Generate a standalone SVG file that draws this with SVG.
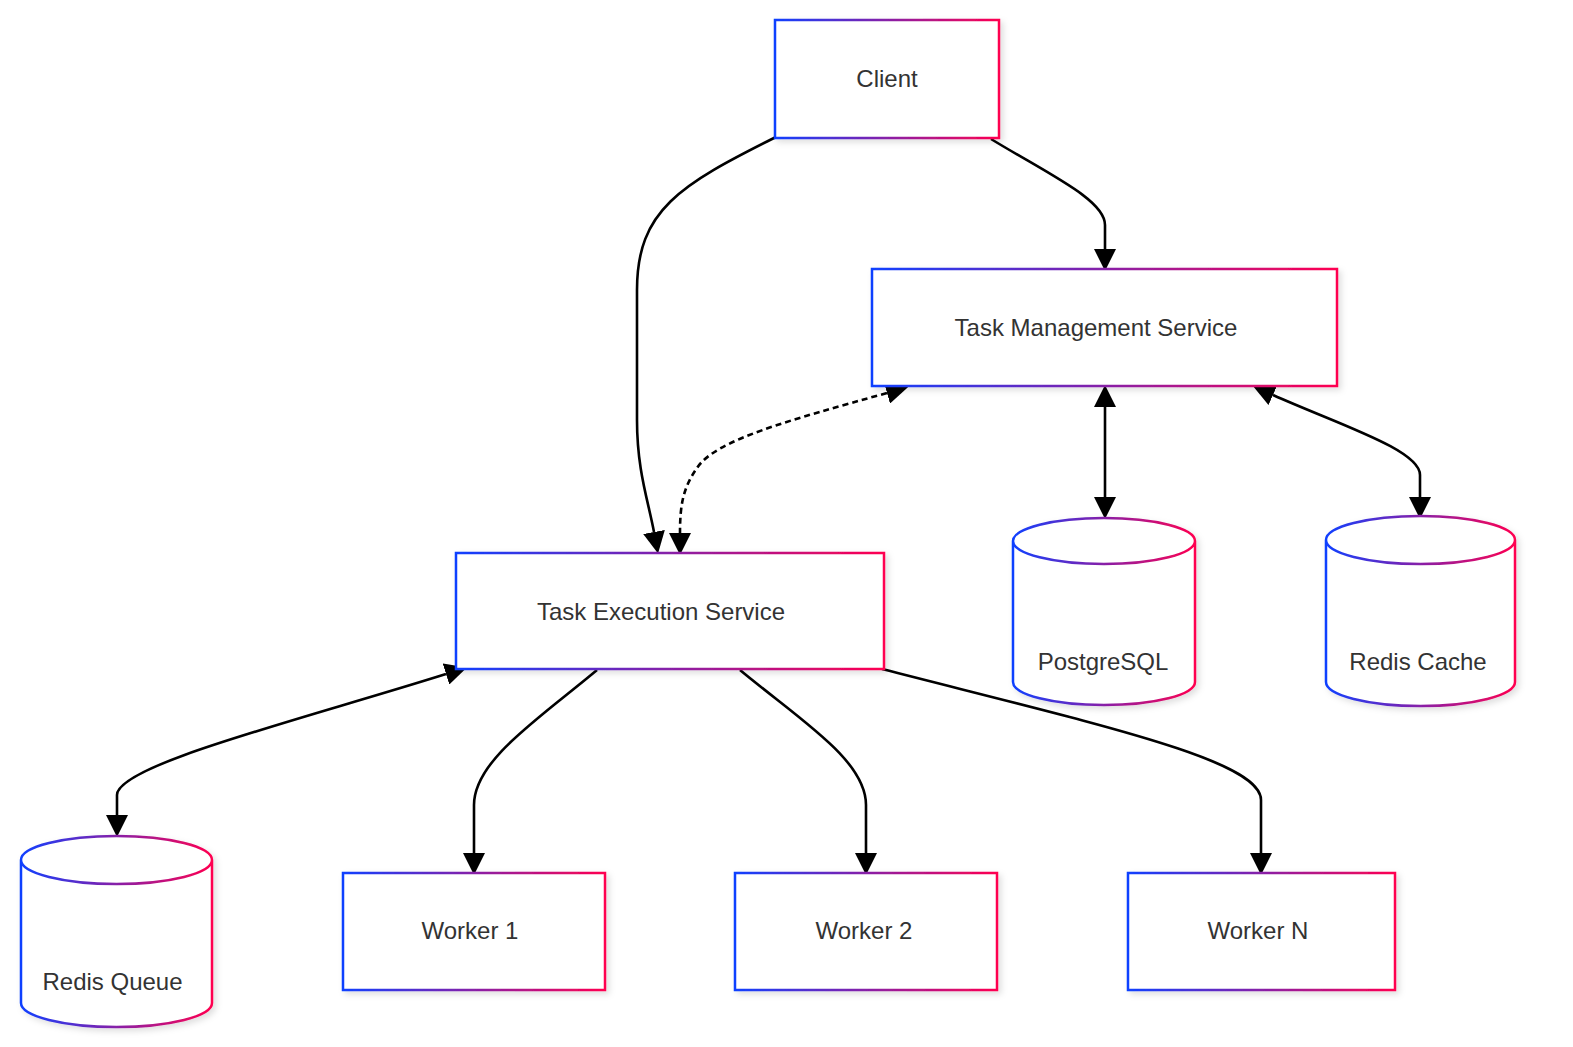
<svg xmlns="http://www.w3.org/2000/svg" width="1573" height="1047" viewBox="0 0 1573 1047">
<style>
  .box { fill: #ffffff; stroke: url(#grad); stroke-width: 2.5; filter: url(#shadow); }
  .label { font-family: "Liberation Sans", Arial, sans-serif; font-size: 24px; fill: #333333; text-anchor: middle; }
  .edge { fill: none; stroke: #000000; stroke-width: 2.6; }
  .dotted { stroke-dasharray: 6 4; }
</style>
<defs>
  <linearGradient id="grad" x1="0" y1="0" x2="1" y2="0">
    <stop offset="0" stop-color="#1040ff"/>
    <stop offset="1" stop-color="#ff0050"/>
  </linearGradient>
  <filter id="shadow" x="-10%" y="-10%" width="125%" height="130%">
    <feDropShadow dx="3" dy="3" stdDeviation="3" flood-color="#000000" flood-opacity="0.13"/>
  </filter>
  <marker id="arrow" markerUnits="userSpaceOnUse" markerWidth="22" markerHeight="22" refX="0" refY="10" orient="auto-start-reverse" viewBox="0 0 20 20">
    <path d="M0,0 L20,10 L0,20 z" fill="#000000"/>
  </marker>
</defs>
<rect width="1573" height="1047" fill="#ffffff"/>

<g id="connectors">
  <path class="edge" d="M 776,137 C 680,185 637,210 637,290 L 637,420 C 637,470 648,500 654,532" marker-end="url(#arrow)"/>
  <path class="edge" d="M 991,139 C 1050,175 1105,200 1105,225 L 1105,249" marker-end="url(#arrow)"/>
  <path class="edge dotted" d="M 887,393 C 790,420 715,440 697,468 C 683,488 680,505 680,533" marker-start="url(#arrow)" marker-end="url(#arrow)"/>
  <path class="edge" d="M 1105,407 L 1105,497" marker-start="url(#arrow)" marker-end="url(#arrow)"/>
  <path class="edge" d="M 1273,395 C 1340,425 1420,450 1420,475 L 1420,497" marker-start="url(#arrow)" marker-end="url(#arrow)"/>
  <path class="edge" d="M 446,674 C 300,720 117,765 117,795 L 117,815" marker-start="url(#arrow)" marker-end="url(#arrow)"/>
  <path class="edge" d="M 597,670 C 540,718 474,760 474,805 L 474,853" marker-end="url(#arrow)"/>
  <path class="edge" d="M 740,670 C 800,720 866,760 866,805 L 866,853" marker-end="url(#arrow)"/>
  <path class="edge" d="M 882,669 C 1100,725 1261,760 1261,800 L 1261,853" marker-end="url(#arrow)"/>
</g>

<g id="client">
  <rect class="box" x="775" y="20" width="224" height="118"/>
  <text class="label" x="887" y="87">Client</text>
</g>
<g id="task-management-service">
  <rect class="box" x="872" y="269" width="465" height="117"/>
  <text class="label" x="1096" y="336">Task Management Service</text>
</g>
<g id="task-execution-service">
  <rect class="box" x="456" y="553" width="428" height="116"/>
  <text class="label" x="661" y="620">Task Execution Service</text>
</g>
<g id="postgresql">
  <path class="box" d="M 1013,541 a 91,23 0 0 0 182,0 a 91,23 0 0 0 -182,0 l 0,141 a 91,23 0 0 0 182,0 l 0,-141"/>
  <text class="label" x="1103" y="670">PostgreSQL</text>
</g>
<g id="redis-cache">
  <path class="box" d="M 1326,540 a 94.5,24 0 0 0 189,0 a 94.5,24 0 0 0 -189,0 l 0,142 a 94.5,24 0 0 0 189,0 l 0,-142"/>
  <text class="label" x="1418" y="670">Redis Cache</text>
</g>
<g id="redis-queue">
  <path class="box" d="M 21,860 a 95.5,24 0 0 0 191,0 a 95.5,24 0 0 0 -191,0 l 0,143 a 95.5,24 0 0 0 191,0 l 0,-143"/>
  <text class="label" x="112.5" y="990">Redis Queue</text>
</g>
<g id="worker-1">
  <rect class="box" x="343" y="873" width="262" height="117"/>
  <text class="label" x="470" y="939">Worker 1</text>
</g>
<g id="worker-2">
  <rect class="box" x="735" y="873" width="262" height="117"/>
  <text class="label" x="864" y="939">Worker 2</text>
</g>
<g id="worker-n">
  <rect class="box" x="1128" y="873" width="267" height="117"/>
  <text class="label" x="1258" y="939">Worker N</text>
</g>
</svg>
